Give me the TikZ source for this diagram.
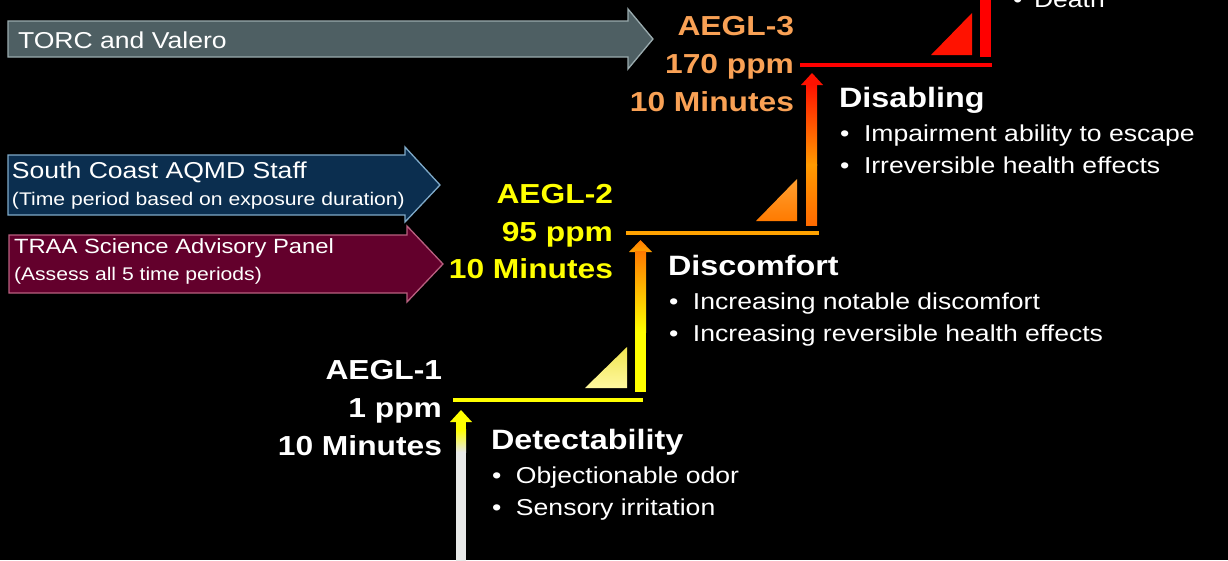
\documentclass[tikz,border=0pt]{standalone}
\usepackage{fontspec}
\setmainfont[FakeStretch=1.155]{Liberation Sans}
\definecolor{torcfill}{HTML}{4E5F63}
\definecolor{torcedge}{HTML}{9AABAE}
\definecolor{scfill}{HTML}{0B2E4F}
\definecolor{scedge}{HTML}{7FAAC9}
\definecolor{trfill}{HTML}{63002C}
\definecolor{tredge}{HTML}{B8607F}
\definecolor{lvlyellow}{HTML}{FFFF00}
\definecolor{lvlorange}{HTML}{F9A155}
\definecolor{lineorange}{HTML}{FFA200}
\definecolor{linered}{HTML}{FF0000}
\definecolor{arrowgray}{HTML}{E8E9E8}
\definecolor{deeporange}{HTML}{FF7A00}
\definecolor{midorange}{HTML}{FF9A00}
\definecolor{redorange}{HTML}{FF6A00}
\definecolor{brightred}{HTML}{FF1200}
\definecolor{tripale}{HTML}{FFF9A0}
\definecolor{triyellow}{HTML}{F0E450}
\definecolor{trioranget}{HTML}{FFA030}
\definecolor{darkred}{HTML}{C80000}
\begin{document}
\begin{tikzpicture}[x=1pt,y=-1pt,
  txt/.style={text=white, inner sep=0pt, outer sep=0pt},
  lvl/.style={inner sep=0pt, outer sep=0pt, anchor=base east, font=\fontsize{27.5}{33}\selectfont\bfseries},
  heading/.style={txt, anchor=base west, font=\fontsize{28}{33}\selectfont\bfseries},
  bul/.style={txt, anchor=base west, font=\fontsize{23}{28}\selectfont},
  boxbig/.style={txt, anchor=base west, font=\fontsize{23}{28}\selectfont},
  boxbig2/.style={txt, anchor=base west, font=\fontsize{20.6}{26}\selectfont},
  boxsmall/.style={txt, anchor=base west, font=\fontsize{18.3}{23}\selectfont},
  stepline/.style={line width=4.5pt, line cap=butt},
  blockarrow/.style={line width=1.3pt, line join=miter}
]
\useasboundingbox (0,0) rectangle (1228,560);
\fill[black] (0,0) rectangle (1228,560);
\clip (0,0) rectangle (1228,560);

% ---- block arrows on the left ----
\draw[blockarrow, fill=torcfill, draw=torcedge]
  (8,21) -- (628,21) -- (628,9) -- (653,39) -- (628,69) -- (628,57) -- (8,57) -- cycle;
\node[boxbig] (torc) at (18,48) {TORC and Valero};

\draw[blockarrow, fill=scfill, draw=scedge]
  (8,155) -- (405,155) -- (405,147) -- (440,185) -- (405,222) -- (405,215) -- (8,215) -- cycle;
\node[boxbig] (sc1) at (12,178) {South Coast AQMD Staff};
\node[boxsmall] (sc2) at (12,205) {(Time period based on exposure duration)};

\draw[blockarrow, fill=trfill, draw=tredge]
  (9,235) -- (407,235) -- (407,226) -- (443,264) -- (407,302) -- (407,293) -- (9,293) -- cycle;
\node[boxbig2] (tr1) at (14,253) {TRAA Science Advisory Panel};
\node[boxsmall] (tr2) at (14,280) {(Assess all 5 time periods)};

% ---- level labels ----
\node[lvl, text=white] (a1t) at (442,379) {AEGL-1};
\node[lvl, text=white] (a1p) at (442,417) {1 ppm};
\node[lvl, text=white] (a1m) at (442,455) {10 Minutes};

\node[lvl, text=lvlyellow] (a2t) at (613,203) {AEGL-2};
\node[lvl, text=lvlyellow] (a2p) at (613,241) {95 ppm};
\node[lvl, text=lvlyellow] (a2m) at (613,278) {10 Minutes};

\node[lvl, text=lvlorange] (a3t) at (794,35) {AEGL-3};
\node[lvl, text=lvlorange] (a3p) at (794,73) {170 ppm};
\node[lvl, text=lvlorange] (a3m) at (794,111) {10 Minutes};

% ---- step lines ----
\coordinate (s1a) at (453,400); \coordinate (s1b) at (643,400);
\coordinate (s2a) at (626,233); \coordinate (s2b) at (819,233);
\coordinate (s3a) at (800,65);  \coordinate (s3b) at (992,65);
\draw[stepline, lvlyellow] (s1a) -- (s1b);
\draw[stepline, lineorange] (s2a) -- (s2b);
\draw[stepline, linered] (s3a) -- (s3b);

% ---- vertical arrows ----
% bottom grey arrow
\fill[lvlyellow] (450,422) -- (461,410) -- (472,422) -- cycle;
\fill[lvlyellow] (456,421.5) rectangle (466,430);
\shade[top color=lvlyellow, bottom color=arrowgray] (456,429.5) rectangle (466,452);
\fill[arrowgray] (456,451.5) rectangle (466,565);

% yellow to orange arrow
\shade[top color=deeporange, bottom color=deeporange!70!lvlyellow] (629,252) -- (640.5,240) -- (652,252) -- cycle;
\shade[top color=deeporange, bottom color=lvlyellow] (635,251.5) rectangle (646,332);
\fill[lvlyellow] (635,331.5) rectangle (646,392);

% orange to red arrow
\fill[brightred] (801,85) -- (812,73) -- (823,85) -- cycle;
\shade[top color=brightred, bottom color=midorange] (806,84.5) rectangle (817,165);
\shade[top color=midorange, bottom color=redorange] (806,164.5) rectangle (817,225);

% top red bar
\fill[linered] (980,-5) rectangle (991,57);

% ---- triangles ----
\shade[top color=triyellow, bottom color=tripale] (627,347) -- (627,388) -- (585,388) -- cycle;
\shade[top color=trioranget, bottom color=deeporange] (797,179) -- (797,221) -- (756,221) -- cycle;
\shade[top color=brightred, middle color=darkred, bottom color=brightred] (972,13) -- (972,55) -- (931,55) -- cycle;

% ---- descriptions ----
\node[heading] (det) at (491,449) {Detectability};
\node[bul] (det1) at (492,483) {\makebox[24pt][l]{•}Objectionable odor};
\node[bul] (det2) at (492,515) {\makebox[24pt][l]{•}Sensory irritation};

\node[heading] (dis) at (668,275) {Discomfort};
\node[bul] (dis1) at (669,309) {\makebox[24pt][l]{•}Increasing notable discomfort};
\node[bul] (dis2) at (669,341) {\makebox[24pt][l]{•}Increasing reversible health effects};

\node[heading] (dsb) at (839,107) {Disabling};
\node[bul] (dsb1) at (840,141) {\makebox[24pt][l]{•}Impairment ability to escape};
\node[bul] (dsb2) at (840,173) {\makebox[24pt][l]{•}Irreversible health effects};

\node[bul] (lth1) at (1013,7) {\makebox[21pt][l]{•}Death};
\end{tikzpicture}
\end{document}
